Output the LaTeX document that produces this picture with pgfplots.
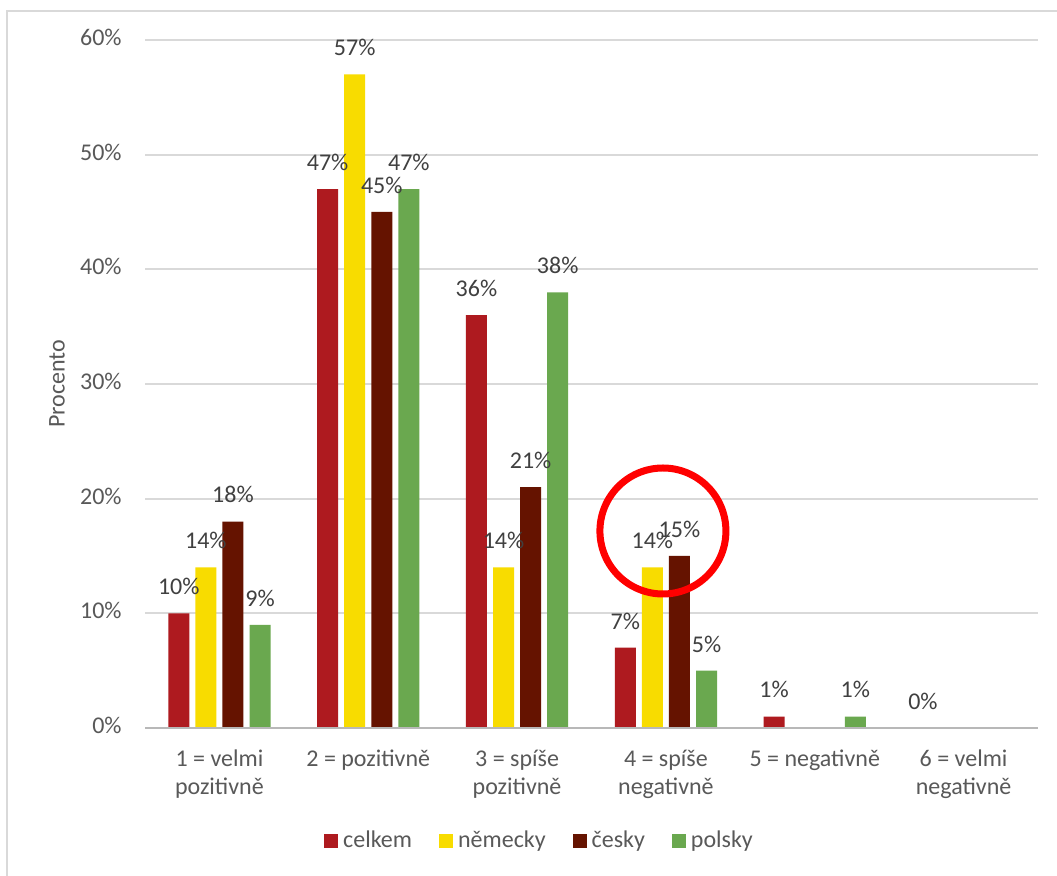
\documentclass[border=0pt]{standalone}
\usepackage{pgfplots}
\pgfplotsset{compat=1.18}
\usepackage{fontspec}
\setmainfont{Carlito}
\definecolor{cCelkem}{HTML}{AE1A1F}
\definecolor{cNem}{HTML}{F8DC00}
\definecolor{cCes}{HTML}{651300}
\definecolor{cPol}{HTML}{6AA84F}
\definecolor{gridc}{HTML}{D9D9D9}
\definecolor{tickc}{HTML}{595959}
\definecolor{labc}{HTML}{404040}
\pgfplotsset{sqlegend/.style={legend image code/.code={\fill[##1,draw=none] (0pt,-3.5pt) rectangle (7pt,3.5pt);}}}
\begin{document}
\begin{tikzpicture}[x=1pt,y=1pt]
\useasboundingbox (0,0) rectangle (528.5,438);
\fill[white] (0,0) rectangle (528.5,438);
\draw[gridc, line width=1pt] (3.5,-5) -- (3.5,432.5) -- (540,432.5);
\begin{axis}[
  at={(72.5pt,74pt)}, anchor=south west,
  scale only axis, width=446.5pt, height=344pt,
  ybar, bar width=0.141,
  xmin=-0.5, xmax=5.5, ymin=0, ymax=60,
  xtick={0,1,2,3,4,5},
  xticklabels={{1 = velmi\\pozitivně},{2 = pozitivně},{3 = spíše\\pozitivně},{4 = spíše\\negativně},{5 = negativně},{6 = velmi\\negativně}},
  ytick={0,10,20,30,40,50,60},
  yticklabels={0\%,10\%,20\%,30\%,40\%,50\%,60\%},
  typeset ticklabels with strut,
  major tick length=0pt,
  axis line style={draw=none},
  ymajorgrids, grid style={gridc, line width=1pt},
  font=\fontsize{12}{14}\selectfont,
  tick label style={font=\fontsize{12}{14}\selectfont, text=tickc},
  xticklabel style={align=center, anchor=north, inner sep=0pt, yshift=-9.5pt},
  yticklabel style={anchor=east, inner sep=0pt, xshift=-11.5pt},
  ylabel={Procento},
  every axis y label/.style={at={(axis description cs:-0.0985,0.5)}, rotate=90, anchor=center, font=\fontsize{12}{14}\selectfont, text=tickc},
  /pgf/number format/assume math mode=true,
  nodes near coords={\pgfmathprintnumber{\pgfplotspointmeta}\%},
  every node near coord/.append style={font=\fontsize{12}{14}\selectfont, text=labc, inner sep=0pt, yshift=9pt},
  sqlegend,
  legend columns=4,
  legend style={at={(0.4435,-0.164)}, anchor=center, draw=none, fill=none,
    font=\fontsize{12}{14}\selectfont, text=tickc,
    nodes={inner xsep=2.5pt},
    /tikz/every even column/.append style={column sep=11pt}},
  clip=false,
]
\addplot[fill=cCelkem, draw=none, bar shift=-0.273] coordinates {(0,10) (1,47) (2,36) (3,7) (4,1) (5,0)};
\addplot[fill=cNem, draw=none, bar shift=-0.091] coordinates {(0,14) (1,57) (2,14) (3,14)};
\addplot[fill=cCes, draw=none, bar shift=0.091] coordinates {(0,18) (1,45) (2,21) (3,15)};
\addplot[fill=cPol, draw=none, bar shift=0.273] coordinates {(0,9) (1,47) (2,38) (3,5) (4,1)};
\legend{celkem, německy, česky, polsky}
\draw[gridc!85!black, line width=1pt] (axis cs:-0.5,0) -- (axis cs:5.5,0);
\draw[red, line width=3.5pt] (axis cs:2.98,17.18) circle[radius=31.5pt];
\end{axis}
\end{tikzpicture}
\end{document}
